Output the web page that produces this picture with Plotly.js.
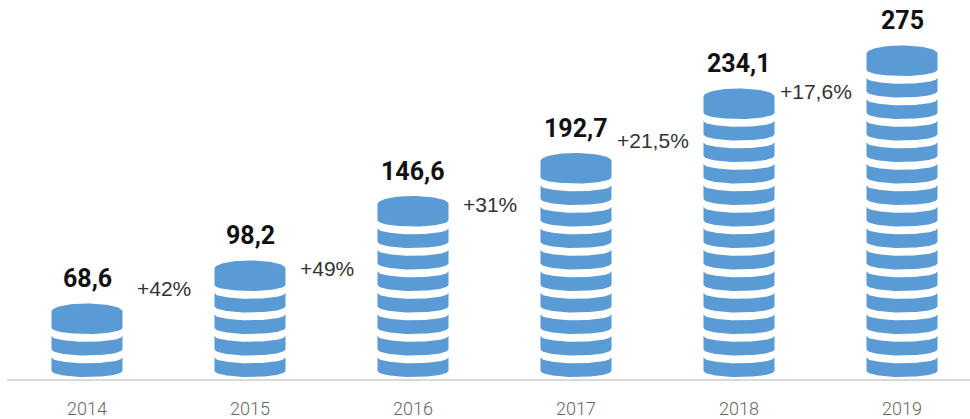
<!DOCTYPE html>
<html>
<head>
<meta charset="utf-8">
<script src="https://cdn.plot.ly/plotly-3.0.1.min.js"></script>
<style>html,body{margin:0;padding:0;background:#fff;}#chart{width:970px;height:419px;}</style>
</head>
<body>
<div id="chart"></div>
<script>
// ---- data ----
const years = ['2014', '2015', '2016', '2017', '2018', '2019'];
const values = [68.6, 98.2, 146.6, 192.7, 234.1, 275];
const coins = [3, 5, 8, 10, 13, 15];            // coins drawn in each stack
const growth = ['+42%', '+49%', '+31%', '+21,5%', '+17,6%'];

// ---- geometry / style (layout only) ----
const BLUE = '#5b9bd5';
const YPX = 21.5, XPX = 163;          // pixels per unit
const A = 35.5 / XPX;                 // half width of a coin
const SAG = 6 / YPX;                  // curvature of coin edges
const T = 13.7 / YPX;                 // coin thickness
const TOPH = 30.5 / YPX;              // height of the top coin (center)
const TOPS = 8 / YPX;                 // top ellipse semi-minor
const growthShift = [15, -8, -8, 13, -3];
const NP = 40;

function stackPath(c, n) {
  const xs = [], ys = [];
  const arc = (k) => { const dx = -A + 2 * A * k / NP; return [dx, SAG - SAG * Math.sqrt(Math.max(0, 1 - (dx / A) * (dx / A)))]; };
  for (let i = 0; i < n - 1; i++) {
    for (let k = 0; k <= NP; k++) { const [dx, yb] = arc(k); xs.push(c + dx); ys.push(i + yb + T); }
    for (let k = NP; k >= 0; k--) { const [dx, yb] = arc(k); xs.push(c + dx); ys.push(i + yb); }
    xs.push(null); ys.push(null);
  }
  const i = n - 1;
  const yc = i + TOPH - TOPS;
  for (let k = 0; k <= NP; k++) { const th = Math.PI - Math.PI * k / NP; xs.push(c + A * Math.cos(th)); ys.push(yc + TOPS * Math.sin(th)); }
  for (let k = NP; k >= 0; k--) { const [dx, yb] = arc(k); xs.push(c + dx); ys.push(i + yb); }
  xs.push(null); ys.push(null);
  return [xs, ys];
}

const traces = years.map((y, idx) => {
  const [xs, ys] = stackPath(idx, coins[idx]);
  return { type: 'scatter', mode: 'lines', x: xs, y: ys, fill: 'toself', fillcolor: BLUE,
           line: { width: 0, color: BLUE }, hoverinfo: 'skip', showlegend: false };
});

const annotations = [];
years.forEach((y, idx) => {
  annotations.push({
    x: idx, y: coins[idx] - 1 + TOPH, xref: 'x', yref: 'y', showarrow: false,
    text: String(values[idx]).replace('.', ','), yanchor: 'middle', xanchor: 'center', yshift: 25,
    font: { family: 'Roboto, Arial, sans-serif', size: 25, color: '#111', weight: 700 }
  });
});
growth.forEach((g, idx) => {
  annotations.push({
    x: idx + 0.475, y: coins[idx] - 1 + TOPH, xref: 'x', yref: 'y', showarrow: false,
    text: g, yanchor: 'middle', xanchor: 'center', yshift: growthShift[idx],
    font: { family: 'Liberation Sans, Arial, sans-serif', size: 21, color: '#333' }
  });
});

const x0 = -80 / XPX;
const layout = {
  width: 970, height: 419,
  margin: { l: 7, r: 0, t: 0, b: 40 },
  paper_bgcolor: '#fff', plot_bgcolor: '#fff',
  xaxis: {
    range: [x0, x0 + 963 / XPX], tickvals: years.map((_, i) => i), ticktext: years,
    showgrid: false, zeroline: false, showline: true, linecolor: '#d9d9d9', linewidth: 2,
    ticks: '', ticklabelstandoff: 12,
    tickfont: { family: 'Roboto, Arial, sans-serif', size: 18, color: '#666', weight: 300 },
    fixedrange: true
  },
  yaxis: { range: [-2 / YPX, 377 / YPX], visible: false, showgrid: false, zeroline: false, fixedrange: true },
  annotations: annotations,
  showlegend: false
};

Plotly.newPlot('chart', traces, layout, { displayModeBar: false, staticPlot: true });
</script>
</body>
</html>
